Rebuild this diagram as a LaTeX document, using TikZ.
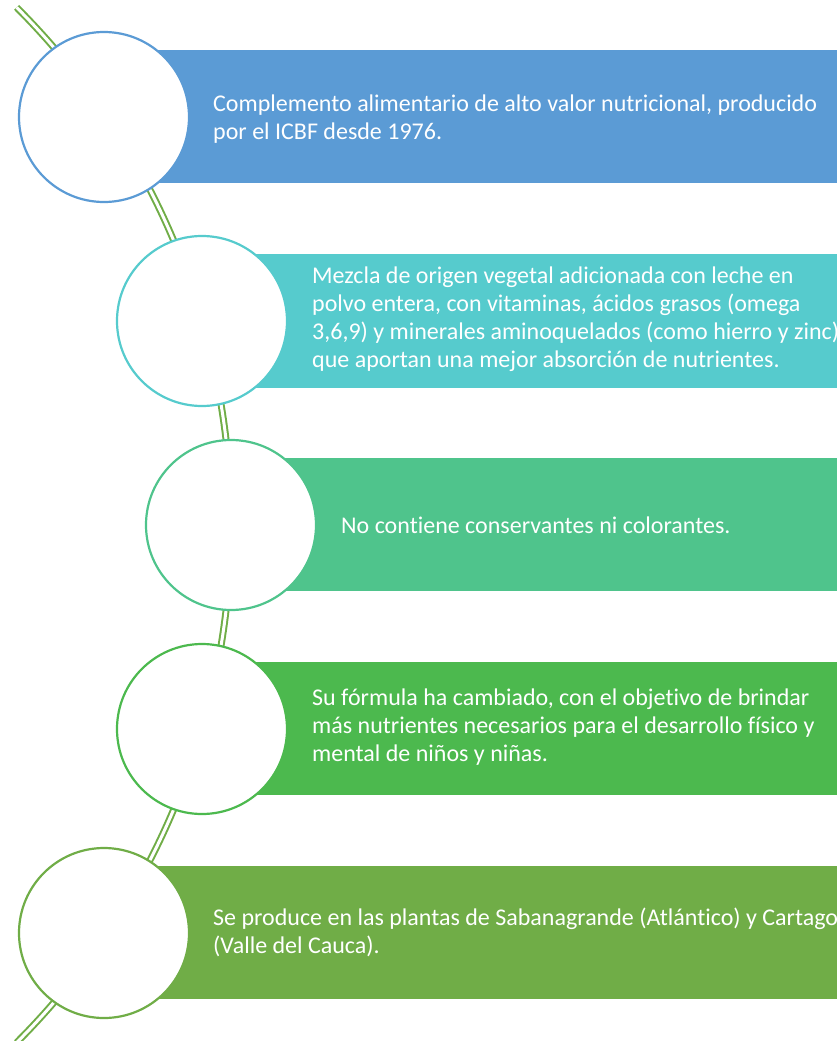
\documentclass[tikz,border=0pt]{standalone}
\usepackage{fontspec}
\setmainfont{Carlito}[Ligatures=NoCommon]
\usepackage{tikz}

\definecolor{stemgreen}{HTML}{70AD47}
\definecolor{itemA}{HTML}{5B9BD5}
\definecolor{itemB}{HTML}{56CBCD}
\definecolor{itemC}{HTML}{4FC48C}
\definecolor{itemD}{HTML}{4CB94E}
\definecolor{itemE}{HTML}{70AD47}

\tikzset{
  bullet/.style={circle, draw=#1, line width=2.2pt, fill=white, minimum size=170pt, inner sep=0pt},
  itemtext/.style={anchor=west, inner sep=0pt, align=left, text=white,
    font=\fontsize{24}{28}\selectfont},
  stem/.style={draw=stemgreen, line width=2pt, double=white, double distance=3pt}
}

\begin{document}
\begin{tikzpicture}[x=1pt, y={(0pt,-1pt)}]
    \useasboundingbox (0,0) rectangle (837,1041);
    \clip (0,0) rectangle (837,1041);

    % curved stem behind the circles
    \draw [stem] (-501,525) ++(-45:732) arc[start angle=-45, end angle=45, radius=732];

    % bars
    \fill [itemA] (104,50) rectangle (860,183);
    \fill [itemB] (202,254) rectangle (860,388);
    \fill [itemC] (231,458) rectangle (860,591);
    \fill [itemD] (202,662) rectangle (860,795);
    \fill [itemE] (104,866) rectangle (860,999);

    % circles
    \node[bullet=itemA] (c1) at (104,117) {};
    \node[bullet=itemB] (c2) at (202,321) {};
    \node[bullet=itemC] (c3) at (231,525) {};
    \node[bullet=itemD] (c4) at (202,729) {};
    \node[bullet=itemE] (c5) at (104,933) {};

    % texts
    \node[itemtext] (t1) at (213,119) {Complemento alimentario de alto valor nutricional, producido\\por el ICBF desde 1976.};
    \node[itemtext] (t2) at (312,319) {Mezcla de origen vegetal adicionada con leche en\\polvo entera, con vitaminas, ácidos grasos (omega\\3,6,9) y minerales aminoquelados (como hierro y zinc)\\que aportan una mejor absorción de nutrientes.};
    \node[itemtext] (t3) at (341,525) {No contiene conservantes ni colorantes.};
    \node[itemtext] (t4) at (312,727) {Su fórmula ha cambiado, con el objetivo de brindar\\más nutrientes necesarios para el desarrollo físico y\\mental de niños y niñas.};
    \node[itemtext] (t5) at (213,932) {Se produce en las plantas de Sabanagrande (Atlántico) y Cartago\\(Valle del Cauca).};

\end{tikzpicture}
\end{document}
